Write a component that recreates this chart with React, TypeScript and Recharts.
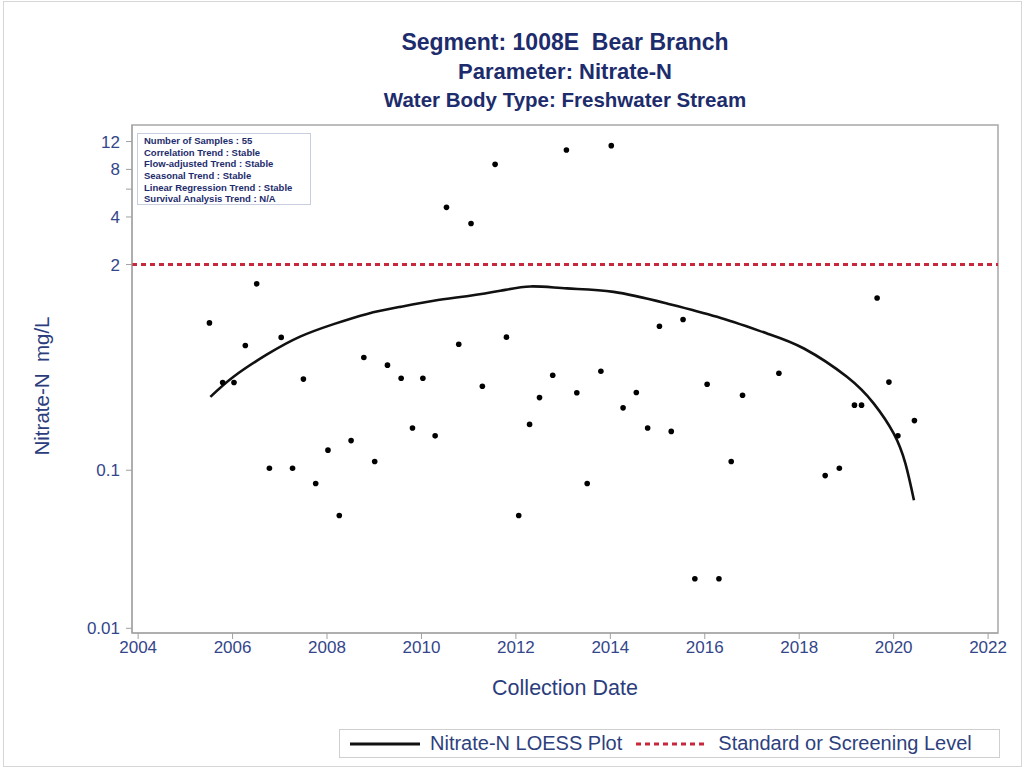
import React from 'react'
import {
  ComposedChart,
  Scatter,
  Line,
  XAxis,
  YAxis,
  ReferenceLine,
  ReferenceArea,
  Label,
} from 'recharts'

// sample dates (decimal years) and Nitrate-N values (mg/L)
const sampleYears = [
  2005.51, 2005.79, 2006.03, 2006.27, 2006.51, 2006.78, 2007.03, 2007.27, 2007.5, 2007.76,
  2008.02, 2008.26, 2008.51, 2008.78, 2009.01, 2009.28, 2009.57, 2009.81, 2010.03, 2010.29,
  2010.53, 2010.79, 2011.05, 2011.29, 2011.56, 2011.8, 2012.06, 2012.29, 2012.5, 2012.78,
  2013.07, 2013.29, 2013.51, 2013.8, 2014.02, 2014.27, 2014.55, 2014.79, 2015.04, 2015.29,
  2015.54, 2015.79, 2016.05, 2016.3, 2016.56, 2016.8, 2017.57, 2018.55, 2018.85, 2019.17,
  2019.32, 2019.65, 2019.9, 2020.09, 2020.44,
]
const sampleValues = [
  0.855, 0.359, 0.359, 0.615, 1.51, 0.103, 0.692, 0.103, 0.377, 0.0824,
  0.134, 0.0517, 0.154, 0.517, 0.1135, 0.462, 0.382, 0.185, 0.382, 0.165,
  4.6, 0.627, 3.64, 0.34, 8.61, 0.695, 0.0517, 0.195, 0.288, 0.399,
  10.6, 0.309, 0.0824, 0.423, 11.3, 0.248, 0.31, 0.185, 0.815, 0.176,
  0.899, 0.0206, 0.35, 0.0206, 0.1135, 0.298, 0.411, 0.0925, 0.103, 0.258,
  0.258, 1.23, 0.361, 0.165, 0.206,
]

// LOESS curve
const loessYears = [
  2005.53, 2006.02, 2006.73, 2007.43, 2008.14, 2008.85, 2009.55, 2010.26, 2010.96, 2011.67,
  2012.31, 2013.08, 2014.07, 2015.2, 2016.26, 2017.32, 2018.1, 2019.01, 2019.58, 2020.0,
  2020.25, 2020.43,
]
const loessValues = [
  0.291, 0.39, 0.54, 0.7, 0.84, 0.975, 1.08, 1.18, 1.262, 1.364,
  1.454, 1.413, 1.344, 1.135, 0.934, 0.733, 0.589, 0.39, 0.264, 0.171,
  0.11, 0.0646,
]

const standardLevel = 2
const xTicks = [2004, 2006, 2008, 2010, 2012, 2014, 2016, 2018, 2020, 2022]
const yTicks = [0.01, 0.1, 2, 4, 6, 8, 10, 12]
const yTickLabels = ['0.01', '0.1', '2', '4', '', '8', '', '12']
const xDomain = [2003.87, 2022.21]
const yDomain = [0.00934, 15.27]

const statsLines = [
  'Number of Samples : 55',
  'Correlation Trend : Stable',
  'Flow-adjusted Trend : Stable',
  'Seasonal Trend : Stable',
  'Linear Regression Trend : Stable',
  'Survival Analysis Trend : N/A',
]

const samples = sampleYears.map((year, i) => ({ year, value: sampleValues[i] }))
const loess = loessYears.map((year, i) => ({ year, value: loessValues[i] }))

const font = '"Liberation Sans", Arial, sans-serif'
const navy = '#1d2c6c'
const tickBlue = '#34468a'
const red = '#c8283c'

const Dot = (props: any) => <circle cx={props.cx} cy={props.cy} r={2.8} fill="#000" />

export default function App() {
  return (
    <div style={{ position: 'absolute', left: 0, top: 0, width: 1026, height: 767, background: '#fff', fontFamily: font }}>
      <div style={{ position: 'absolute', left: 3, top: 1, width: 1017, height: 764, border: '1px solid #d6d6d6' }} />

      {/* titles */}
      <div style={{ position: 'absolute', left: 165, width: 800, top: 28, textAlign: 'center', color: navy, fontWeight: 'bold', fontSize: 23, whiteSpace: 'pre', lineHeight: '28px' }}>
        Segment: 1008E  Bear Branch
      </div>
      <div style={{ position: 'absolute', left: 165, width: 800, top: 58, textAlign: 'center', color: navy, fontWeight: 'bold', fontSize: 22, lineHeight: '28px' }}>
        Parameter: Nitrate-N
      </div>
      <div style={{ position: 'absolute', left: 165, width: 800, top: 87, textAlign: 'center', color: navy, fontWeight: 'bold', fontSize: 20.5, lineHeight: '26px' }}>
        Water Body Type: Freshwater Stream
      </div>

      <div style={{ position: 'absolute', left: 0, top: 0 }}>
        <ComposedChart width={1026} height={767} margin={{ top: 125, right: 28, bottom: 94, left: 22 }}>
          <XAxis
            dataKey="year"
            type="number"
            domain={xDomain}
            ticks={xTicks}
            allowDataOverflow
            height={40}
            stroke="#a0a0a0"
            tickSize={6}
            tick={{ fill: tickBlue, fontSize: 17, fontFamily: font }}
          >
            <Label value="Collection Date" position="bottom" offset={7} fill="#2b3d7c" fontSize={21.5} fontFamily={font} />
          </XAxis>
          <YAxis
            dataKey="value"
            type="number"
            scale="log"
            domain={yDomain}
            ticks={yTicks}
            allowDataOverflow
            width={110}
            stroke="#a0a0a0"
            tickSize={6}
            tickMargin={6}
            tickFormatter={(v: number) => yTickLabels[yTicks.indexOf(v)] ?? ''}
            tick={{ fill: tickBlue, fontSize: 17, fontFamily: font }}
          >
            <Label
              value={'Nitrate-N\u00A0 mg/L'}
              angle={-90}
              position="insideLeft"
              offset={20}
              dy={7}
              fill="#2b3d7c"
              fontSize={20.5}
              fontFamily={font}
              style={{ textAnchor: 'middle' }}
            />
          </YAxis>
          <ReferenceArea x1={xDomain[0]} x2={xDomain[1]} y1={yDomain[0]} y2={yDomain[1]} fill="none" stroke="#a8a8a8" strokeWidth={1.5} ifOverflow="visible" />
          <ReferenceLine y={standardLevel} stroke={red} strokeWidth={3} strokeDasharray="5 4" />
          <Line
            data={loess}
            dataKey="value"
            type="natural"
            stroke="#111"
            strokeWidth={2.6}
            dot={false}
            activeDot={false}
            isAnimationActive={false}
          />
          <Scatter data={samples} dataKey="value" shape={Dot} isAnimationActive={false} />
        </ComposedChart>
      </div>

      {/* trend summary box */}
      <div style={{ position: 'absolute', left: 137, top: 133, width: 166, height: 66, padding: '1px 0 3px 6px', border: '1px solid #c9cde0', background: '#fff', color: navy, fontWeight: 'bold', fontSize: 9.5, lineHeight: '11.67px', whiteSpace: 'nowrap' }}>
        {statsLines.map((s) => (
          <div key={s}>{s}</div>
        ))}
      </div>

      {/* legend */}
      <div style={{ position: 'absolute', left: 339, top: 729, width: 659, height: 27, border: '1px solid #cfcfcf', display: 'flex', alignItems: 'center', color: '#2e3f7d', fontSize: 20, whiteSpace: 'nowrap' }}>
        <svg width={72} height={10} style={{ marginLeft: 10 }}>
          <line x1={0} y1={5} x2={70} y2={5} stroke="#111" strokeWidth={3} />
        </svg>
        <span style={{ marginLeft: 8 }}>Nitrate-N LOESS Plot</span>
        <svg width={72} height={10} style={{ marginLeft: 14 }}>
          <line x1={0} y1={5} x2={70} y2={5} stroke={red} strokeWidth={3} strokeDasharray="5 4" />
        </svg>
        <span style={{ marginLeft: 10 }}>Standard or Screening Level</span>
      </div>
    </div>
  )
}
